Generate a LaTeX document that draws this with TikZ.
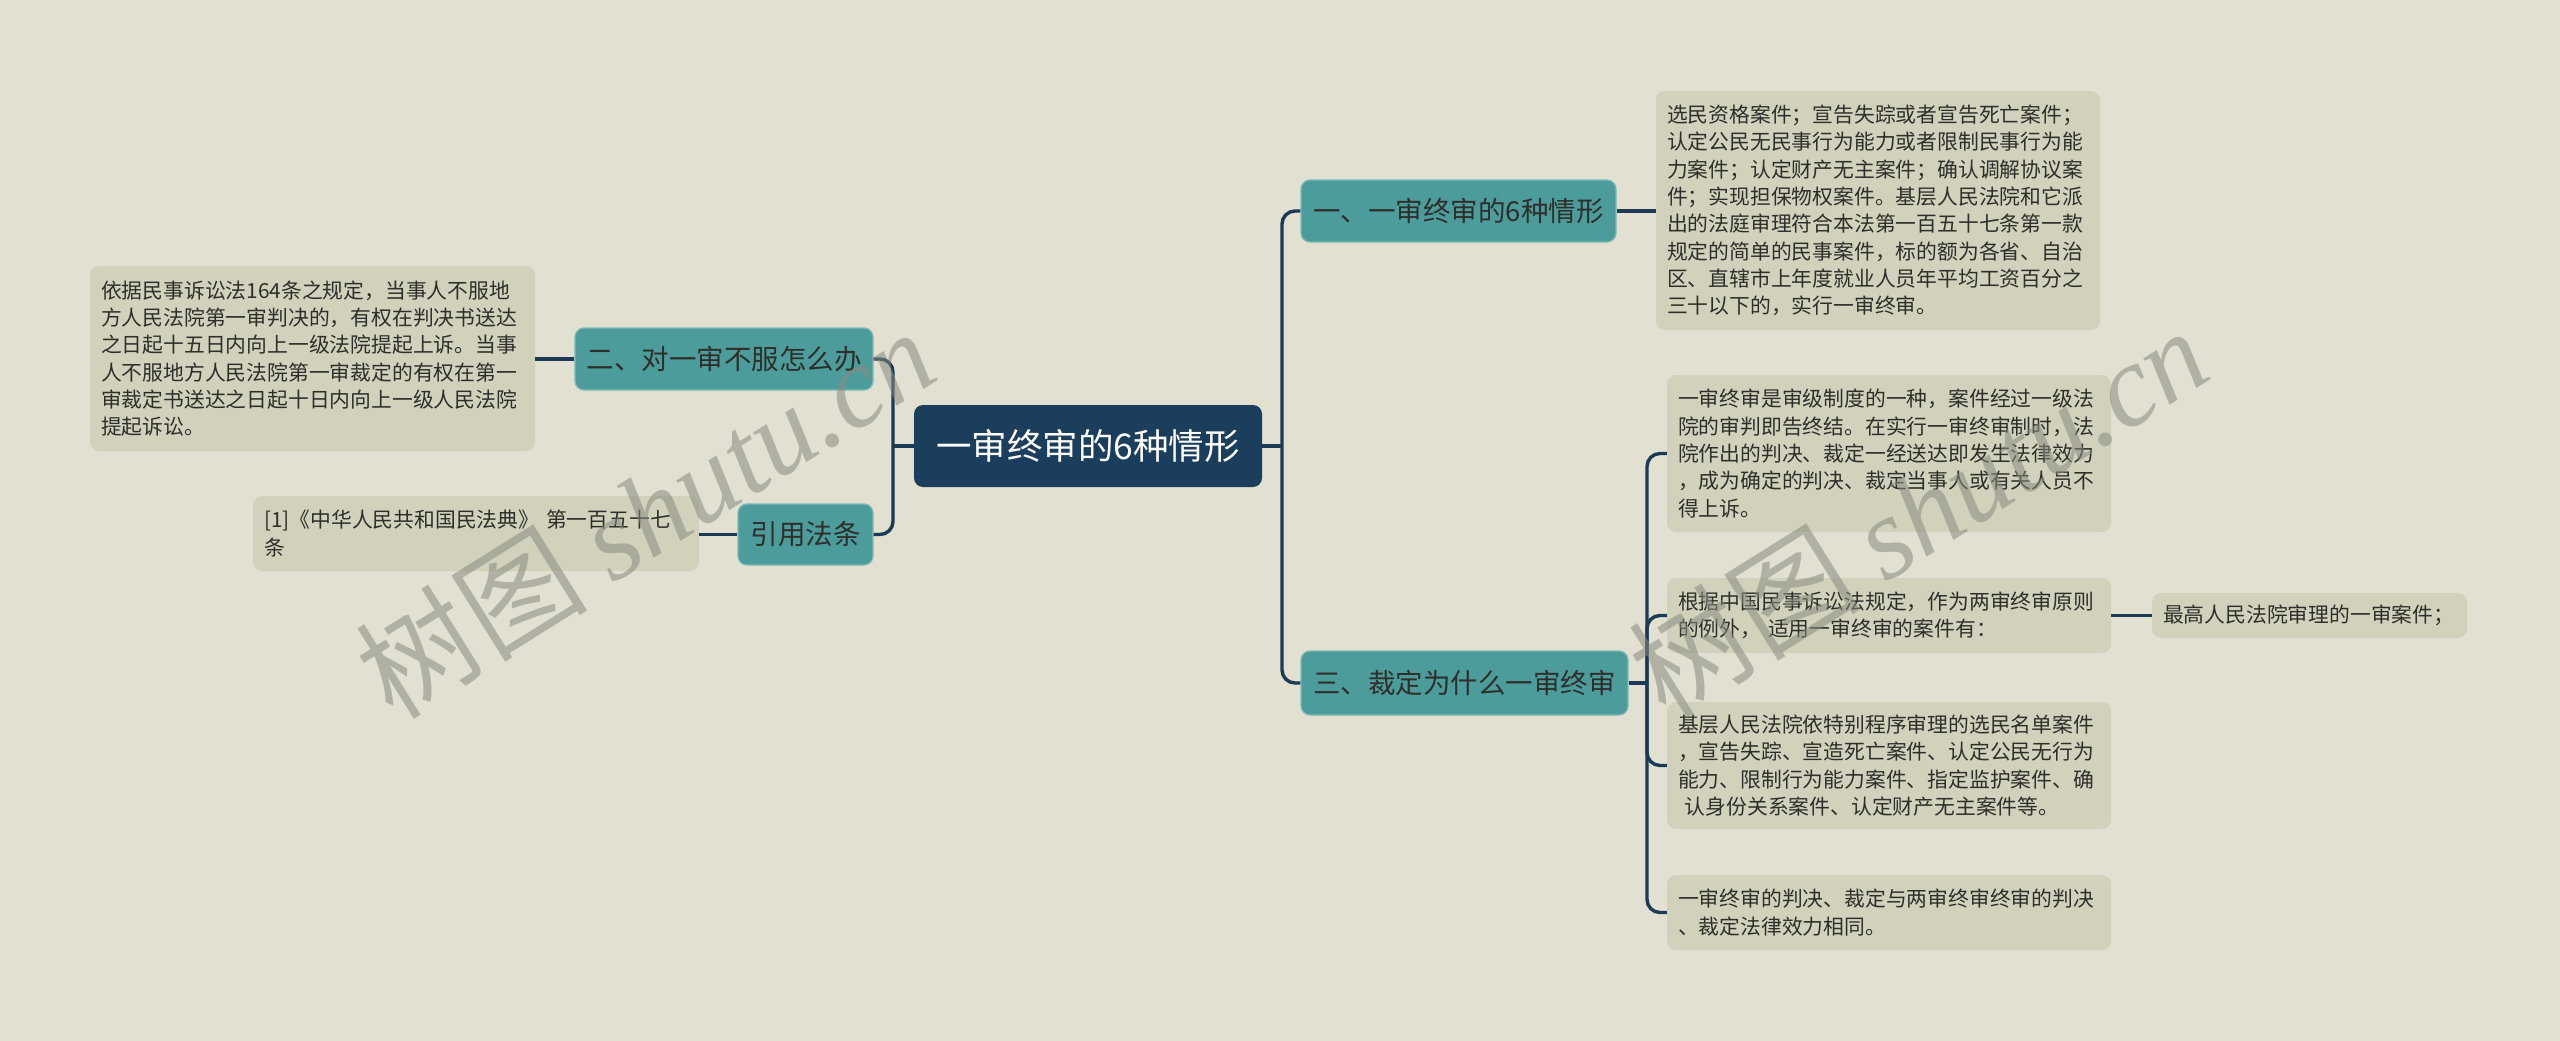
\documentclass[tikz,border=0pt]{standalone}
\usepackage{fontspec}
\setmainfont{Noto Sans CJK SC}
\newfontfamily\wmserif{Liberation Serif}
\newfontfamily\wmcjk{Noto Sans CJK SC}
\definecolor{bgc}{HTML}{E1E0D1}
\definecolor{leafc}{HTML}{D2D1BC}
\definecolor{tealc}{HTML}{4D9C9C}
\definecolor{tealb}{HTML}{7DBAB6}
\definecolor{rootc}{HTML}{1B3E5D}
\definecolor{connc}{HTML}{1C3A56}
\definecolor{txtc}{HTML}{2E2E2A}
\definecolor{wmc}{HTML}{8A8A80}
\tikzset{
  conn/.style={draw=connc, line width=3.4pt, rounded corners=13pt},
  leaf/.style={fill=leafc, rounded corners=9pt, inner xsep=11pt, inner ysep=6pt,
    align=left, text=txtc, font=\fontsize{20.8}{27.3}\selectfont},
  branch/.style={fill=tealc, draw=tealb, line width=1.2pt, rounded corners=9pt,
    text=txtc, font=\fontsize{27.5}{32}\selectfont},
  rootbox/.style={fill=rootc, rounded corners=9pt, text=white,
    font=\fontsize{35.5}{40}\selectfont},
  wm/.style={text=wmc, opacity=0.55, rotate=32}
}
\begin{document}
\begin{tikzpicture}[x=1pt, y=-1pt]
\fill[bgc] (0,0) rectangle (2560,1041);
\useasboundingbox (0,0) rectangle (2560,1041);

% coordinates for spines
\coordinate (sR) at (1282,446);
\coordinate (sL) at (893,446);
\coordinate (s3) at (1647,683);

% nodes
\node[rootbox, minimum width=348pt, minimum height=82pt] (root) at (1088,446) {一审终审的6种情形};
\node[branch, minimum width=298pt, minimum height=62pt] (n2) at (724,359) {二、对一审不服怎么办};
\node[branch, minimum width=135pt, minimum height=61pt] (n4) at (805.5,534.5) {引用法条};
\node[branch, minimum width=315pt, minimum height=62pt] (n1) at (1458.5,211) {一、一审终审的6种情形};
\node[branch, minimum width=327pt, minimum height=64pt] (n3) at (1464.5,683) {三、裁定为什么一审终审};

\node[leaf, text width=423pt, minimum height=185pt] (L1) at (312.5,358.5) {依据民事诉讼法164条之规定，当事人不服地\\方人民法院第一审判决的，有权在判决书送达\\之日起十五日内向上一级法院提起上诉。当事\\人不服地方人民法院第一审裁定的有权在第一\\审裁定书送达之日起十日内向上一级人民法院\\提起诉讼。};
\node[leaf, text width=424pt, minimum height=75pt] (L2) at (476,533.5) {[1]《中华人民共和国民法典》 第一百五十七\\条};
\node[leaf, text width=422pt, minimum height=239pt] (R1) at (1878,210.5) {选民资格案件；宣告失踪或者宣告死亡案件；\\认定公民无民事行为能力或者限制民事行为能\\力案件；认定财产无主案件；确认调解协议案\\件；实现担保物权案件。基层人民法院和它派\\出的法庭审理符合本法第一百五十七条第一款\\规定的简单的民事案件，标的额为各省、自治\\区、直辖市上年度就业人员年平均工资百分之\\三十以下的，实行一审终审。};
\node[leaf, text width=422pt, minimum height=157pt] (Ra) at (1889,453.5) {一审终审是审级制度的一种，案件经过一级法\\院的审判即告终结。在实行一审终审制时，法\\院作出的判决、裁定一经送达即发生法律效力\\，成为确定的判决、裁定当事人或有关人员不\\得上诉。};
\node[leaf, text width=422pt, minimum height=75pt] (Rb) at (1889,615.5) {根据中国民事诉讼法规定，作为两审终审原则\\的例外， 适用一审终审的案件有：};
\node[leaf, text width=293pt, minimum height=45pt] (Rc) at (2309.5,615.5) {最高人民法院审理的一审案件；};
\node[leaf, text width=422pt, minimum height=127pt] (Rd) at (1889,765.5) {基层人民法院依特别程序审理的选民名单案件\\，宣告失踪、宣造死亡案件、认定公民无行为\\能力、限制行为能力案件、指定监护案件、确\\\ 认身份关系案件、认定财产无主案件等。};
\node[leaf, text width=422pt, minimum height=75pt] (Re) at (1889,912.5) {一审终审的判决、裁定与两审终审终审的判决\\、裁定法律效力相同。};

% connectors
\draw[conn] (root.east) -- (sR);
\draw[conn] (sR) |- (n1.west);
\draw[conn] (sR) |- (n3.west);
\draw[conn] (root.west) -- (sL);
\draw[conn] (sL) |- (n2.east);
\draw[conn] (sL) |- (n4.east);
\draw[conn] (n2.west) -- (L1.east |- n2.west);
\draw[conn] (n4.west) -- (L2.east |- n4.west);
\draw[conn] (n1.east) -- (R1.west |- n1.east);
\draw[conn] (n3.east) -- (s3);
\draw[conn] (s3) |- (Ra.west);
\draw[conn] (s3) |- (Rb.west);
\draw[conn] (s3) |- (Rd.west);
\draw[conn] (s3) |- (Re.west);
\draw[conn] (Rb.east) -- (Rc.west |- Rb.east);

% watermarks
\node[wm] (wm1) at (645,512) {\wmcjk\fontsize{116}{120}\selectfont 树图 \wmserif\itshape shutu.cn};
\node[wm] (wm2) at (1918,511) {\wmcjk\fontsize{116}{120}\selectfont 树图 \wmserif\itshape shutu.cn};
\end{tikzpicture}
\end{document}
